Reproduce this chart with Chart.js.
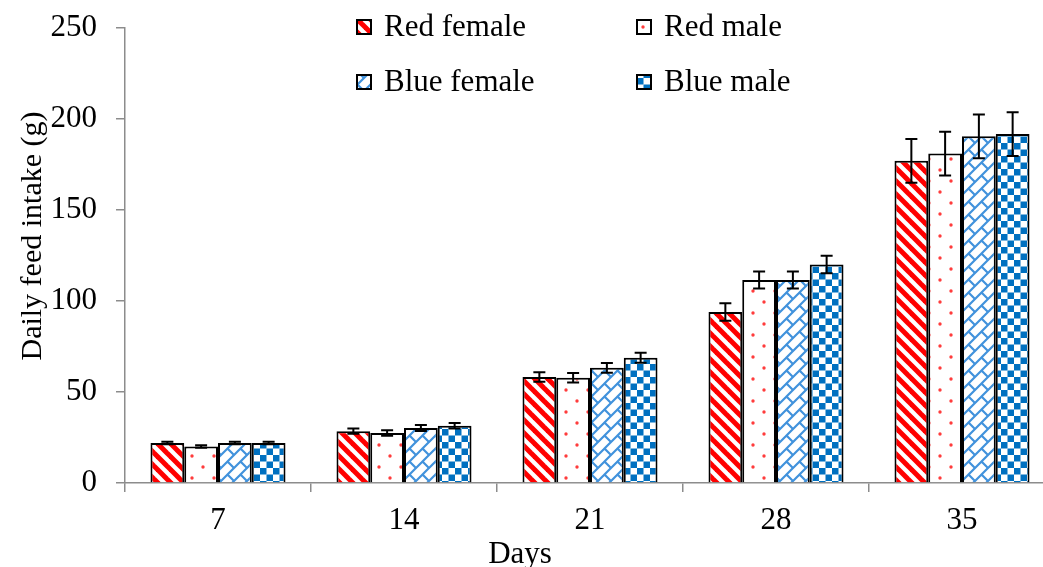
<!DOCTYPE html>
<html>
<head>
<meta charset="utf-8">
<title>Daily feed intake</title>
<script src="https://cdn.jsdelivr.net/npm/chart.js@4.4.1/dist/chart.umd.min.js"></script>
<style>
  html, body { margin: 0; padding: 0; background: #ffffff; overflow: hidden; width: 1043px; height: 567px; }
  canvas { position: absolute; left: 0; top: 0; }
</style>
</head>
<body>
<canvas id="chart" width="1080" height="567"></canvas>
<script>
// Sampling days
const days = ['7', '14', '21', '28', '35'];

// Series names
const seriesNames = ['Red female', 'Red male', 'Blue female', 'Blue male'];

// Mean daily feed intake (g)
const redFemale  = [22.0, 28.5, 58.3, 94.0, 177.0];
const redMale    = [20.0, 27.5, 57.8, 111.5, 181.0];
const blueFemale = [22.0, 30.2, 63.3, 111.5, 190.5];
const blueMale   = [22.0, 31.5, 68.8, 120.0, 191.7];

// Standard errors
const redFemaleErr  = [0.7, 1.5, 2.6, 4.8, 12.0];
const redMaleErr    = [0.7, 1.5, 2.6, 4.7, 12.0];
const blueFemaleErr = [0.7, 1.6, 2.7, 4.7, 12.0];
const blueMaleErr   = [0.7, 1.5, 2.7, 4.8, 12.0];

const FONT = '"Liberation Serif", "Times New Roman", serif';

// ---- fill patterns ----
function makeTile(w, h, draw) {
  const c = document.createElement('canvas');
  c.width = w; c.height = h;
  const g = c.getContext('2d');
  g.fillStyle = '#ffffff';
  g.fillRect(0, 0, w, h);
  draw(g, w, h);
  return document.createElement('canvas').getContext('2d').createPattern(c, 'repeat');
}

// wide downward diagonal stripes
const stripePattern = makeTile(13, 13, (g, w) => {
  g.strokeStyle = '#ff0000';
  g.lineWidth = 5;
  for (let k = -1; k <= 1; k++) {
    g.beginPath();
    g.moveTo(k * w - 3, -3);
    g.lineTo(k * w + w + 3, w + 3);
    g.stroke();
  }
});

// sparse staggered dots
const dotPattern = makeTile(22, 22, (g) => {
  g.fillStyle = '#ff3c3c';
  [[5, 5], [16, 16]].forEach(([x, y]) => {
    g.beginPath();
    g.arc(x, y, 1.7, 0, Math.PI * 2);
    g.fill();
  });
});

// diagonal brick
const brickPattern = makeTile(13, 13, (g, w) => {
  g.strokeStyle = '#4192dc';
  g.lineWidth = 2.2;
  g.lineCap = 'square';
  g.beginPath();
  g.moveTo(-2, w + 2); g.lineTo(w + 2, -2);
  g.moveTo(w / 2, w / 2); g.lineTo(w + 2, w + 2);
  g.moveTo(-2, -2); g.lineTo(0, 0);
  g.stroke();
});

// checkerboard
const checkPattern = makeTile(13, 13, (g) => {
  g.fillStyle = '#0070c0';
  g.fillRect(0, 0, 6.5, 6.5);
  g.fillRect(6.5, 6.5, 6.5, 6.5);
});

const fills = [stripePattern, dotPattern, brickPattern, checkPattern];
const values = [redFemale, redMale, blueFemale, blueMale];
const errors = [redFemaleErr, redMaleErr, blueFemaleErr, blueMaleErr];

// ---- error bars ----
const errorBars = {
  id: 'errorBars',
  afterDatasetsDraw(chart) {
    const ctx = chart.ctx;
    const y = chart.scales.y;
    ctx.save();
    ctx.strokeStyle = '#000000';
    ctx.lineWidth = 2;
    chart.data.datasets.forEach((ds, i) => {
      const meta = chart.getDatasetMeta(i);
      meta.data.forEach((bar, j) => {
        const v = ds.data[j];
        const e = ds.errors[j];
        const top = y.getPixelForValue(v + e);
        const bot = y.getPixelForValue(v - e);
        const cap = 6;
        ctx.beginPath();
        ctx.moveTo(bar.x, top); ctx.lineTo(bar.x, bot);
        ctx.moveTo(bar.x - cap, top); ctx.lineTo(bar.x + cap, top);
        ctx.moveTo(bar.x - cap, bot); ctx.lineTo(bar.x + cap, bot);
        ctx.stroke();
      });
    });
    ctx.restore();
  }
};

// ---- legend (two rows inside the plot) and axis titles ----
const decorations = {
  id: 'decorations',
  afterDraw(chart) {
    const ctx = chart.ctx;
    ctx.save();
    ctx.font = '31px ' + FONT;
    ctx.fillStyle = '#000000';
    ctx.textBaseline = 'middle';
    ctx.textAlign = 'left';
    const cols = [357, 637];
    const rows = [27, 82];
    seriesNames.forEach((name, i) => {
      const bx = cols[i % 2];
      const by = rows[Math.floor(i / 2)];
      ctx.fillStyle = fills[i];
      ctx.fillRect(bx, by - 7, 14, 14);
      ctx.strokeStyle = '#000000';
      ctx.lineWidth = 2;
      ctx.strokeRect(bx, by - 7, 14, 14);
      ctx.fillStyle = '#000000';
      ctx.fillText(name, bx + 27, by + 1);
    });

    // y axis title
    ctx.save();
    ctx.font = '30px ' + FONT;
    ctx.translate(41, 236);
    ctx.rotate(-Math.PI / 2);
    ctx.textAlign = 'center';
    ctx.textBaseline = 'alphabetic';
    ctx.fillText('Daily feed intake (g)', 0, 0);
    ctx.restore();

    // x axis title
    ctx.textAlign = 'center';
    ctx.textBaseline = 'alphabetic';
    ctx.fillText('Days', 520, 563);
    ctx.restore();
  }
};

new Chart(document.getElementById('chart'), {
  type: 'bar',
  data: {
    labels: days,
    datasets: seriesNames.map((name, i) => ({
      label: name,
      data: values[i],
      errors: errors[i],
      backgroundColor: fills[i],
      borderColor: '#000000',
      borderWidth: 2,
      categoryPercentage: 0.726,
      barPercentage: 1.0
    }))
  },
  options: {
    responsive: false,
    animation: false,
    devicePixelRatio: 1,
    layout: { padding: { top: 28, right: 25, left: 0, bottom: 0 } },
    plugins: {
      legend: { display: false },
      tooltip: { enabled: false }
    },
    scales: {
      x: {
        afterFit(scale) {
          scale.height = 84;
          scale.paddingLeft = 0;
          scale.paddingRight = 0;
        },
        grid: {
          drawOnChartArea: false,
          drawTicks: true,
          tickLength: 9,
          color: '#8c8c8c',
          lineWidth: 1.5,
          offset: true
        },
        border: { color: '#8c8c8c', width: 1.5 },
        ticks: {
          color: '#000000',
          padding: 10,
          font: { family: FONT, size: 31 }
        }
      },
      y: {
        min: 0,
        max: 250,
        afterFit(scale) {
          scale.width = 125;
          scale.paddingTop = 0;
          scale.paddingBottom = 0;
        },
        grid: {
          drawOnChartArea: false,
          drawTicks: true,
          tickLength: 9,
          color: '#8c8c8c',
          lineWidth: 1.5
        },
        border: { color: '#8c8c8c', width: 1.5 },
        ticks: {
          stepSize: 50,
          color: '#000000',
          padding: 19,
          font: { family: FONT, size: 31 }
        }
      }
    }
  },
  plugins: [errorBars, decorations]
});
</script>
</body>
</html>
